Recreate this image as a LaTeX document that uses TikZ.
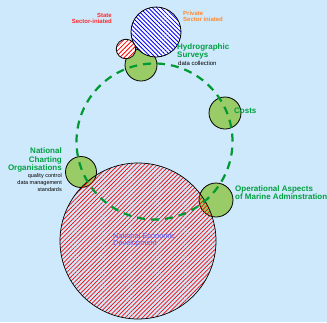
\documentclass[tikz,border=0pt]{standalone}
\usepackage{fontspec}
\setmainfont{Liberation Sans}
\usetikzlibrary{patterns.meta}
\definecolor{bgblue}{RGB}{206,233,251}
\definecolor{leaf}{RGB}{153,204,102}
\definecolor{ringgreen}{RGB}{0,153,51}
\definecolor{labgreen}{RGB}{0,160,64}
\definecolor{statered}{RGB}{255,40,40}
\definecolor{privorange}{RGB}{255,136,51}
\definecolor{nedblue}{RGB}{96,96,255}
\tikzset{
  bubble/.style={circle, draw=black, line width=0.8pt, fill=leaf, inner sep=0pt},
  bigtopic/.style={circle, draw=black, line width=0.7pt, inner sep=0pt,
    pattern={Lines[angle=45,distance=3.05pt,line width=0.7pt]}, pattern color=red},
  privtopic/.style={circle, draw=black, line width=0.8pt, inner sep=0pt, preaction={fill=white},
    pattern={Lines[angle=-45,distance=3pt,line width=0.8pt]}, pattern color=blue},
  statetopic/.style={circle, draw=black, line width=0.8pt, inner sep=0pt, preaction={fill=white},
    pattern={Lines[angle=45,distance=3.2pt,line width=0.85pt]}, pattern color=red},
  ring/.style={circle, draw=ringgreen, line width=2.2pt, dash pattern=on 8pt off 6pt, inner sep=0pt},
  glabel/.style={text=labgreen, font=\fontsize{8}{8.3}\selectfont\bfseries, inner sep=0pt},
  note/.style={text=black, font=\fontsize{5.5}{7.2}\selectfont, inner sep=0pt},
}
\begin{document}
\begin{tikzpicture}[x=1pt,y=-1pt]
\useasboundingbox (0,0) rectangle (327,322);
\fill[bgblue] (0,0) rectangle (327,322);
% green bubbles
\node[bubble, minimum size=32pt] (hyd) at (141,65) {};
\node[bubble, minimum size=32pt] (cost) at (225,113) {};
\node[bubble, minimum size=34pt] (ops) at (216,200) {};
\node[bubble, minimum size=31pt] (nco) at (81,172) {};
% initiative circles
\node[privtopic, minimum size=50pt] (priv) at (156,32) {};
\node[statetopic, minimum size=19.5pt] (state) at (126,49) {};
% national economic development
\node[bigtopic, minimum size=156pt] (ned) at (138,241) {};
% dashed ring
\node[ring, minimum size=156pt] (cycle) at (154.5,141.5) {};
% labels
\node[glabel, anchor=north west, align=left] (hydlab) at (177,43) {Hydrographic\\Surveys};
\node[note, font=\fontsize{6}{7}\selectfont, anchor=base west] (hydnote) at (178,65) {data collection};
\node[glabel, anchor=base west] (costlab) at (234,113) {Costs};
\node[glabel, anchor=north west, align=left] (opslab) at (235,185) {Operational Aspects\\of Marine Adminstration};
\node[glabel, font=\fontsize{8}{8.6}\selectfont\bfseries, anchor=north east, align=right] (ncolab) at (62,147.5) {National\\Charting\\Organisations};
\node[note, anchor=north east, align=right] (nconote) at (62,173.3) {quality control\\data management\\standards};
\node[text=statered, inner sep=0pt, font=\fontsize{6}{6.3}\selectfont\bfseries, anchor=north east, align=right] (statelab) at (112,12.7) {State\\Sector-iniated};
\node[text=privorange, inner sep=0pt, font=\fontsize{6}{6.5}\selectfont\bfseries, anchor=north west, align=left] (privlab) at (183,10.7) {Private\\Sector iniated};
\node[text=nedblue, inner sep=0pt, font=\fontsize{7.4}{7.5}\selectfont, anchor=north west, align=left] (nedlab) at (113,232.5) {National Economic\\Development};
\end{tikzpicture}
\end{document}
